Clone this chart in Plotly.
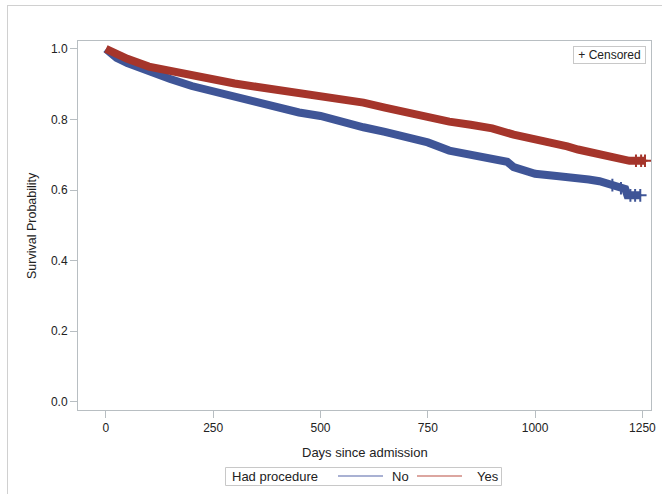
import plotly.graph_objects as go

# Kaplan-Meier estimates (days, survival)
days_no = [0, 25, 50, 100, 150, 200, 250, 300, 350, 400, 450, 500, 550, 600, 650,
           700, 750, 800, 850, 900, 935, 950, 1000, 1050, 1100, 1125, 1150, 1175,
           1200, 1210, 1215, 1245]
surv_no = [1.0, 0.975, 0.96, 0.935, 0.915, 0.895, 0.88, 0.862, 0.845, 0.832, 0.82,
           0.81, 0.793, 0.778, 0.765, 0.75, 0.735, 0.712, 0.70, 0.688, 0.68, 0.665,
           0.646, 0.64, 0.636, 0.63, 0.625, 0.615, 0.605, 0.603, 0.585, 0.585]

days_yes = [0, 25, 50, 100, 150, 200, 250, 300, 350, 400, 450, 500, 550, 600, 650,
            700, 750, 800, 850, 900, 950, 1000, 1050, 1075, 1100, 1130, 1160, 1190,
            1220, 1256]
surv_yes = [1.0, 0.985, 0.972, 0.95, 0.937, 0.925, 0.912, 0.902, 0.893, 0.885,
            0.877, 0.868, 0.858, 0.848, 0.834, 0.82, 0.807, 0.794, 0.785, 0.775,
            0.757, 0.745, 0.73, 0.724, 0.715, 0.706, 0.70, 0.69, 0.683, 0.683]

# a few visible censor marks at the tail
cens_no_x = [1180, 1200, 1222, 1233, 1245]
cens_no_y = [0.614, 0.605, 0.585, 0.585, 0.585]
cens_yes_x = [1235, 1247, 1256]
cens_yes_y = [0.683, 0.683, 0.683]

xticks = [0, 250, 500, 750, 1000, 1250]
yticks = [0.0, 0.2, 0.4, 0.6, 0.8, 1.0]

group_title = "Had procedure"
group_names = ["No", "Yes"]

BLUE = "#3F5597"
RED = "#A5352B"
FONT = "Liberation Sans"
FRAME = "#B8BEC2"
TXT = "#222222"

W, H = 662, 494
L, R, T, B = 78, 11, 41, 84
pw, ph = W - L - R, H - T - B


def px(xp):
    return (xp - L) / pw


def py(yp):
    return (H - B - yp) / ph


fig = go.Figure()
fig.add_trace(go.Scatter(x=days_no, y=surv_no, mode="lines",
                         line=dict(color=BLUE, width=8), showlegend=False))
fig.add_trace(go.Scatter(x=days_yes, y=surv_yes, mode="lines",
                         line=dict(color=RED, width=8), showlegend=False))
fig.add_trace(go.Scatter(x=cens_no_x, y=cens_no_y, mode="markers", showlegend=False,
                         marker=dict(symbol="cross-thin", size=9,
                                     line=dict(color=BLUE, width=2))))
fig.add_trace(go.Scatter(x=cens_yes_x, y=cens_yes_y, mode="markers", showlegend=False,
                         marker=dict(symbol="cross-thin", size=9,
                                     line=dict(color=RED, width=2))))

annotations = [
    dict(text="\u00a0+ Censored\u00a0", xref="paper", yref="paper", x=px(646), y=py(46),
         xanchor="right", yanchor="top", showarrow=False,
         font=dict(size=12, color=TXT), bordercolor="#C8C8C8", borderwidth=1,
         borderpad=1, bgcolor="white"),
    dict(text="Survival Probability", xref="paper", yref="paper", x=px(32), y=py(226),
         xanchor="center", yanchor="middle", textangle=-90, showarrow=False,
         font=dict(size=12.5, color=TXT)),
    dict(text="Days since admission", xref="paper", yref="paper", x=px(365), y=py(452),
         xanchor="center", yanchor="middle", showarrow=False,
         font=dict(size=13, color=TXT)),
    dict(text=group_title, xref="paper", yref="paper", x=px(230), y=py(476),
         xanchor="left", yanchor="middle", showarrow=False,
         font=dict(size=13, color=TXT)),
    dict(text=group_names[0], xref="paper", yref="paper", x=px(390), y=py(476),
         xanchor="left", yanchor="middle", showarrow=False,
         font=dict(size=13, color=TXT)),
    dict(text=group_names[1], xref="paper", yref="paper", x=px(475), y=py(476),
         xanchor="left", yanchor="middle", showarrow=False,
         font=dict(size=13, color=TXT)),
]

shapes = [
    # outer image border (top and left)
    dict(type="line", xref="paper", yref="paper", x0=px(7), x1=px(662),
         y0=py(5.5), y1=py(5.5), line=dict(color="#D0D0D0", width=1)),
    dict(type="line", xref="paper", yref="paper", x0=px(7.5), x1=px(7.5),
         y0=py(5), y1=py(494), line=dict(color="#D0D0D0", width=1)),
    # legend box and samples
    dict(type="rect", xref="paper", yref="paper", x0=px(225.5), x1=px(501.5),
         y0=py(467.5), y1=py(485.5), line=dict(color="#C8C8C8", width=1)),
    dict(type="line", xref="paper", yref="paper", x0=px(338), x1=px(383),
         y0=py(476), y1=py(476), line=dict(color="#8C97C4", width=1.5)),
    dict(type="line", xref="paper", yref="paper", x0=px(417), x1=px(462),
         y0=py(476), y1=py(476), line=dict(color="#D08880", width=1.5)),
]

fig.update_layout(
    width=W, height=H,
    margin=dict(l=L, r=R, t=T, b=B, autoexpand=False),
    paper_bgcolor="white", plot_bgcolor="white",
    font=dict(family=FONT, size=12, color=TXT),
    showlegend=False,
    xaxis=dict(range=[-65, 1270], tickvals=xticks, ticktext=[str(v) for v in xticks],
               showgrid=False, zeroline=False, showline=True, linecolor=FRAME,
               mirror=True, ticks="outside", ticklen=7, tickcolor=FRAME,
               tickfont=dict(size=12, color=TXT), automargin=False),
    yaxis=dict(range=[-0.0235, 1.0226], tickvals=yticks,
               ticktext=["%.1f" % v for v in yticks],
               showgrid=False, zeroline=False, showline=True, linecolor=FRAME,
               mirror=True, ticks="outside", ticklen=7, tickcolor=FRAME,
               tickfont=dict(size=12, color=TXT), automargin=False),
    annotations=annotations,
    shapes=shapes,
)

fig.write_html("out.html", config={"displayModeBar": False},
               post_script="document.body.style.margin='0';document.body.style.padding='0';")
